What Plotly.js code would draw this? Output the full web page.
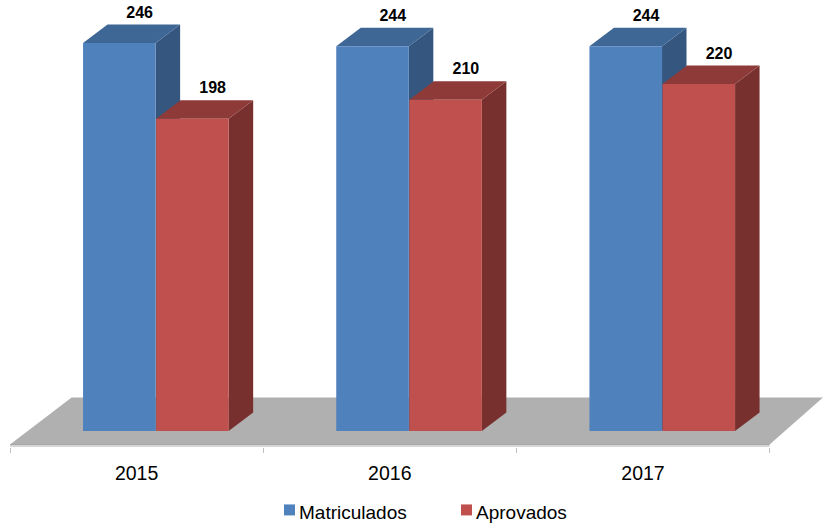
<!DOCTYPE html>
<html><head><meta charset="utf-8">
<script src="https://cdn.plot.ly/plotly-3.0.1.min.js"></script>
<style>html,body{margin:0;padding:0;background:#fff}#c{width:823px;height:526px}</style>
</head><body><div id="c"></div>
<script>
var categories = ['2015','2016','2017'];
var matriculados = [246,244,244];
var aprovados = [198,210,220];
var seriesNames = ['Matriculados','Aprovados'];

var W=823,H=526,ml=10,plotBottom=447.5,base=431.5;
var pxPerCat=253.2, pxPerVal=1.579;
var barW=0.2866, offBlue=-0.2115, offRed=0.0770;
var dx=24.5/pxPerCat, dy=18.5/pxPerVal;
var xs=categories.map(function(c,i){return i;});
var xMax=-0.5+(W-ml)/pxPerCat;
var yMin=(base-plotBottom)/pxPerVal;
var yMax=base/pxPerVal;
function yv(p){return (base-p)/pxPerVal;}

function poly(pts,color){
  return {type:'path',xref:'x',yref:'y',layer:'below',fillcolor:color,line:{width:0},
    path:pts.map(function(p,i){return (i?'L':'M')+p[0]+','+p[1];}).join(' ')+' Z'};
}
var shapes=[];
// floor
shapes.push(poly([[-0.5,yv(445)],[2.5,yv(445)],[xMax,yv(398)],[(72-137)/pxPerCat,yv(398)]],'#b0b0b0'));
shapes.push({type:'line',xref:'x',yref:'y',layer:'below',x0:-0.5,x1:2.5,y0:yv(445),y1:yv(445),line:{color:'#a6a6a6',width:1}});
shapes.push({type:'line',xref:'x',yref:'y',layer:'below',x0:-0.5,x1:2.5,y0:yv(446.5),y1:yv(446.5),line:{color:'#c9c9c9',width:1.5}});
function faces(vals,off,side,top){
  vals.forEach(function(v,i){
    var l=i+off,r=l+barW;
    shapes.push(poly([[r,0],[r+dx,dy],[r+dx,v+dy],[r,v]],side));
    shapes.push(poly([[l,v],[r,v],[r+dx,v+dy],[l+dx,v+dy]],top));
  });
}
faces(matriculados,offBlue,'#35577f','#3e6796');
faces(aprovados,offRed,'#78302e','#8e3a38');

function px(x){return (x-ml)/(W-ml);}
function py(y){return (plotBottom-y)/plotBottom;}
var legendCols=['#4f81bd','#c0504d'], legendSw=[284,461], legendTx=[296.5,473.5];
var annotations=[];
seriesNames.forEach(function(n,i){
  shapes.push({type:'rect',xref:'paper',yref:'paper',x0:px(legendSw[i]),x1:px(legendSw[i]+11),y0:py(516),y1:py(505),fillcolor:legendCols[i],line:{width:0}});
  annotations.push({xref:'paper',yref:'paper',x:px(legendTx[i]),y:py(513),xanchor:'left',yanchor:'middle',showarrow:false,text:n,
    font:{family:'"Liberation Sans",Arial,sans-serif',size:19,color:'#000'}});
});

function bar(vals,off,name,color){
  return {type:'bar',x:xs,y:vals,name:name,width:barW,offset:off,marker:{color:color,line:{width:0}},hoverinfo:'y',showlegend:false};
}
function labels(vals,off){
  return {type:'scatter',mode:'text',x:xs.map(function(i){return i+off+barW/2+0.08;}),
    y:vals.map(function(v){return v+29.5/pxPerVal;}),text:vals.map(String),textposition:'middle center',
    textfont:{family:'"Liberation Sans",Arial,sans-serif',size:16,color:'#000',weight:'bold'},cliponaxis:false,showlegend:false,hoverinfo:'skip'};
}
var data=[bar(matriculados,offBlue,seriesNames[0],'#4f81bd'),bar(aprovados,offRed,seriesNames[1],'#c0504d'),
  labels(matriculados,offBlue),labels(aprovados,offRed)];
var layout={width:W,height:H,margin:{l:ml,r:0,t:0,b:H-plotBottom,pad:0},showlegend:false,barmode:'overlay',
  paper_bgcolor:'#fff',plot_bgcolor:'#fff',shapes:shapes,annotations:annotations,
  xaxis:{range:[-0.5,xMax],tickmode:'array',tickvals:xs,ticktext:categories,ticks:'',showgrid:false,zeroline:false,showline:false,ticklabelstandoff:12,
    tickfont:{family:'"Liberation Sans",Arial,sans-serif',size:19.5,color:'#000'},
    minor:{tick0:-0.5,dtick:1,ticks:'outside',ticklen:5,tickcolor:'#bfbfbf',tickwidth:1,showgrid:false}},
  yaxis:{range:[yMin,yMax],visible:false,showgrid:false,zeroline:false}};
Plotly.newPlot('c',data,layout,{displayModeBar:false,staticPlot:true});
</script></body></html>
